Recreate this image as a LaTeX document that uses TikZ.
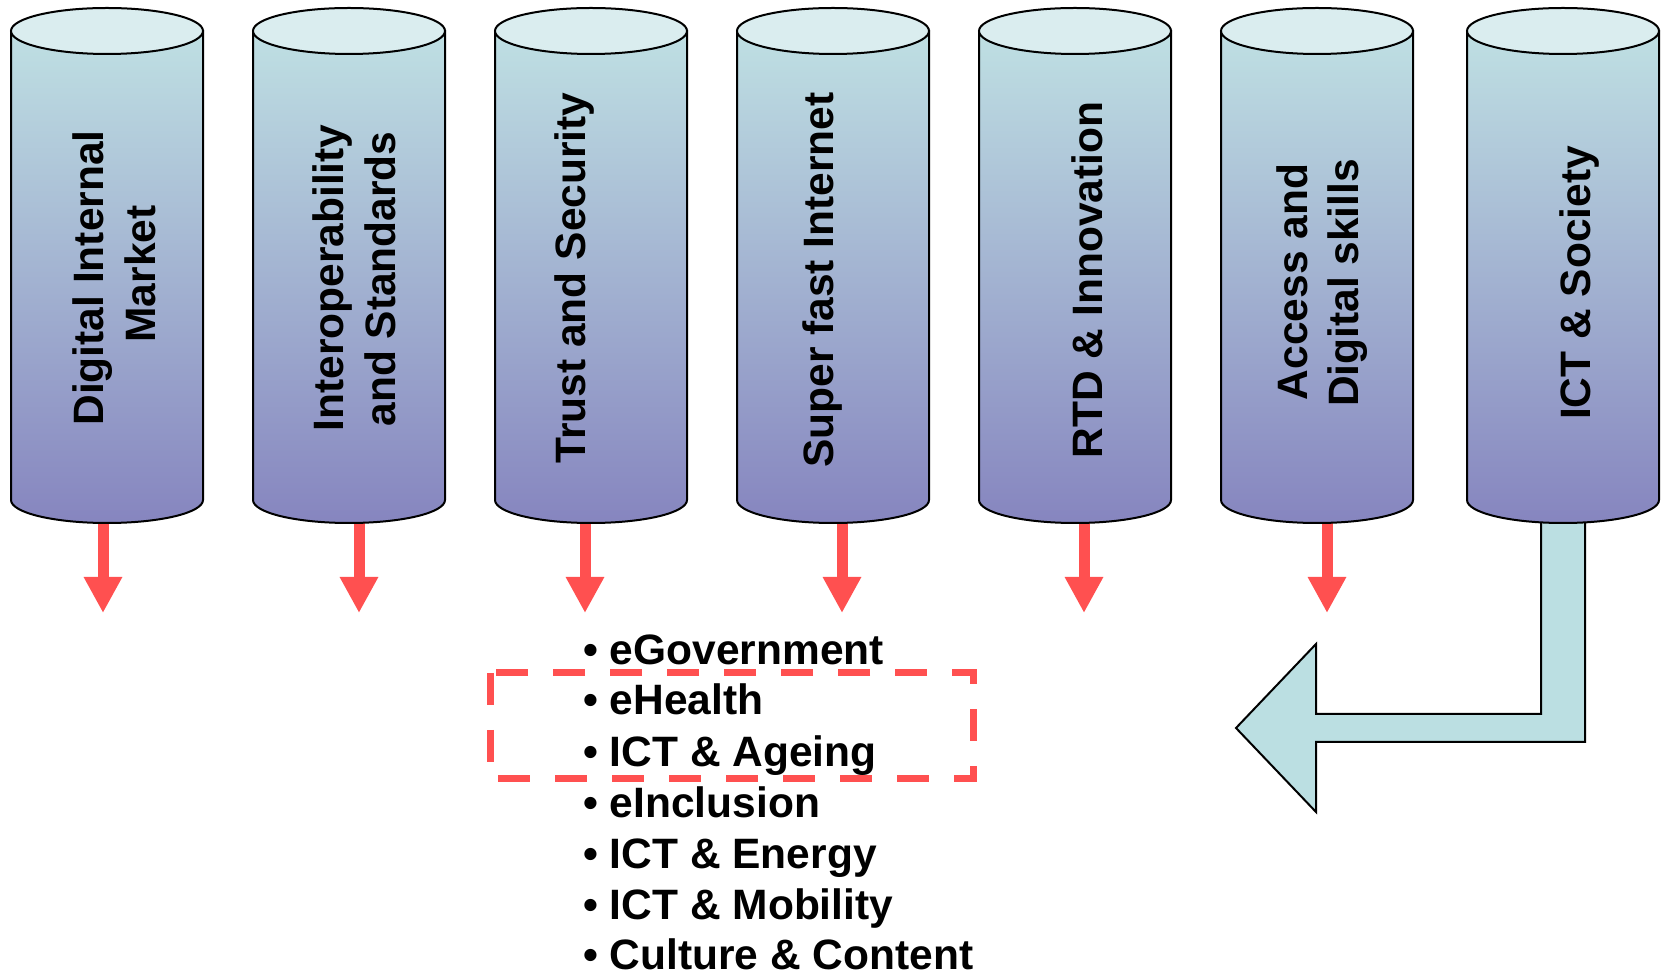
\documentclass[tikz,border=0pt]{standalone}
\usepackage{fontspec}
\setmainfont{Liberation Sans}
\usetikzlibrary{arrows.meta}
\definecolor{cyltop}{HTML}{BFE0E3}
\definecolor{cylbot}{HTML}{8685BF}
\definecolor{lidcolor}{HTML}{DAEDEF}
\definecolor{arrred}{HTML}{FF5050}
\definecolor{bentfill}{HTML}{BBDFE2}
\begin{document}
\begin{tikzpicture}[x=1pt,y=1pt,
  cylbody/.style={draw=black, line width=2pt, top color=cyltop, bottom color=cylbot},
  cyllid/.style={draw=black, line width=2pt, fill=lidcolor},
  pillartext/.style={rotate=90, anchor=base, inner sep=0pt, font=\fontsize{42.5}{50}\selectfont\bfseries},
  listtext/.style={anchor=base west, inner sep=0pt, font=\fontsize{42.5}{50}\selectfont\bfseries},
  redarrow/.style={draw=arrred, line width=11pt, -{Triangle[width=36pt,length=36pt]}},
  bentarrow/.style={draw=black, line width=2pt, fill=bentfill, line join=miter},
  focusbox/.style={draw=arrred, line width=7pt, dash pattern=on 32pt off 25pt}
]
\useasboundingbox (0,0) rectangle (1665,975);
% red arrows (drawn first, cylinders cover their start)
\foreach \x/\n in {103/1,359/2,585/3,842/4,1084/5,1327/6}{
  \coordinate (b\n) at (\x,460);
  \coordinate (e\n) at (\x,362);
  \draw[redarrow] (b\n) -- (e\n);
}
% bent arrow from ICT & Society
\path[bentarrow] (1541,470) -- (1541,261) -- (1316,261) -- (1316,331) -- (1236,247)
  -- (1316,163) -- (1316,233) -- (1585,233) -- (1585,470) -- cycle;
% cylinders
\foreach \L in {11,253,495,737,979,1221,1467}{
  \path[cylbody] (\L,944) -- (\L,475) arc[start angle=180,end angle=360,x radius=96,y radius=23]
     -- (\L+192,944) -- cycle;
  \path[cyllid] (\L+96,944) ellipse[x radius=96,y radius=23];
}
% pillar texts
\node[pillartext] (t1a) at (103,697) {Digital Internal};
\node[pillartext] (t1b) at (155,701) {Market};
\node[pillartext] (t2a) at (343,697) {Interoperability};
\node[pillartext] (t2b) at (395,696) {and Standards};
\node[pillartext] (t3) at (585,697) {Trust and Security};
\node[pillartext] (t4) at (833,695) {Super fast Internet};
\node[pillartext] (t5) at (1102,695) {RTD \& Innovation};
\node[pillartext] (t6a) at (1307,693) {Access and};
\node[pillartext] (t6b) at (1358,692) {Digital skills};
\node[pillartext] (t7) at (1590,692) {ICT \& Society};
% list
\foreach \t/\Y/\n in {eGovernment/310/1, eHealth/260/2, ICT \& Ageing/208/3, eInclusion/158/4,
    ICT \& Energy/107/5, ICT \& Mobility/56/6, Culture \& Content/6/7}{
  \node[listtext] (l\n) at (583,\Y) {\textbullet{} \t};
}
% dashed focus box
\draw[focusbox] (490,302) rectangle (973,196);
\end{tikzpicture}
\end{document}
